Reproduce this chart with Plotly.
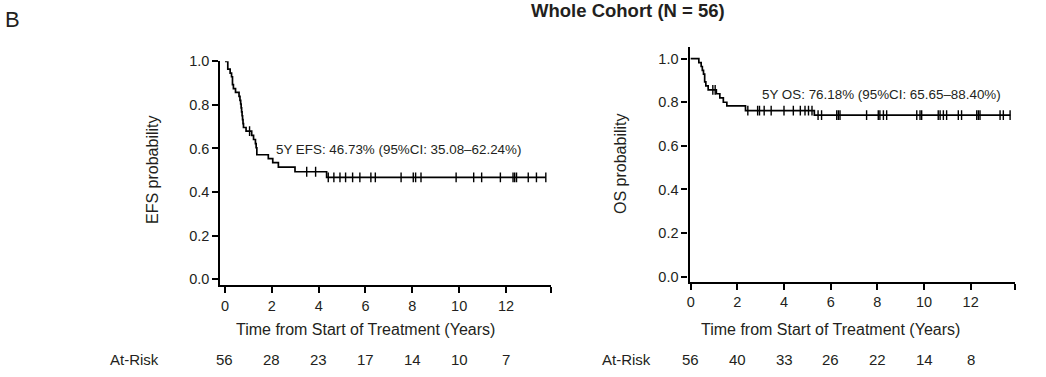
import numpy as np
import plotly.graph_objects as go

# ---------------- data ----------------
efs_t = [0, 0.12, 0.22, 0.28, 0.32, 0.36, 0.45, 0.60, 0.64, 0.67, 0.69, 0.71, 0.73, 0.75,
         0.77, 0.79, 0.90, 1.14, 1.22, 1.30, 1.33, 1.36, 1.85, 2.04, 2.28, 2.99, 4.34, 13.70]
efs_s = [1.0, 0.964, 0.946, 0.929, 0.893, 0.875, 0.857, 0.839, 0.821, 0.804, 0.786, 0.768, 0.750, 0.732,
         0.714, 0.696, 0.679, 0.660, 0.641, 0.622, 0.603, 0.571, 0.553, 0.535, 0.514, 0.493, 0.467, 0.467]
efs_censor = [1.05, 3.49, 3.87, 4.41, 4.65, 4.91, 5.15, 5.45, 5.76, 6.23, 6.42, 7.52, 8.04, 8.14,
              8.37, 9.87, 10.62, 10.96, 11.76, 12.30, 12.37, 12.45, 12.95, 13.30, 13.70]

os_t = [0, 0.35, 0.45, 0.50, 0.55, 0.60, 0.65, 0.75, 1.10, 1.25, 1.40, 1.55, 2.35, 5.30, 13.70]
os_s = [1.0, 0.982, 0.964, 0.946, 0.929, 0.893, 0.875, 0.857, 0.839, 0.820, 0.800, 0.783, 0.762, 0.741, 0.741]
os_censor = [0.95, 1.05, 2.45, 2.87, 2.95, 3.15, 3.45, 4.00, 4.40, 4.70, 4.90, 5.05, 5.20, 5.46, 5.61,
             6.26, 6.33, 6.40, 7.54, 8.04, 8.11, 8.26, 8.40, 9.69, 9.83, 9.90, 10.61, 10.69, 10.83,
             10.97, 11.47, 11.61, 12.26, 12.33, 12.40, 13.26, 13.40, 13.69]

risk_times = [0, 2, 4, 6, 8, 10, 12]
efs_risk = [56, 28, 23, 17, 14, 10, 7]
os_risk = [56, 40, 33, 26, 22, 14, 8]

x_ticks = [0, 2, 4, 6, 8, 10, 12]
y_ticks = [0.0, 0.2, 0.4, 0.6, 0.8, 1.0]

efs_label = "5Y EFS: 46.73% (95%CI: 35.08\u201362.24%)"
os_label = "5Y OS: 76.18% (95%CI: 65.65\u201388.40%)"
title = "<b>Whole Cohort (N = 56)</b>"

# ---------------- helpers ----------------
W, H = 1046, 377
FONT = "Liberation Sans, Arial, Helvetica, sans-serif"
TXT = "#231f20"


def px(p):
    return p / W


def py(p):
    return 1 - p / H


def step_value(times, surv, t):
    i = np.searchsorted(np.asarray(times), t, side="right") - 1
    return np.asarray(surv)[i]


fig = go.Figure()

panels = [
    dict(t=efs_t, s=efs_s, c=efs_censor, xa="x", ya="y"),
    dict(t=os_t, s=os_s, c=os_censor, xa="x2", ya="y2"),
]
for p in panels:
    fig.add_trace(go.Scatter(x=p["t"], y=p["s"], mode="lines", line=dict(shape="hv", color="black", width=1.7),
                             xaxis=p["xa"], yaxis=p["ya"], showlegend=False, hoverinfo="skip"))
    cy = [step_value(p["t"], p["s"], t) for t in p["c"]]
    fig.add_trace(go.Scatter(x=p["c"], y=cy, mode="markers",
                             marker=dict(symbol="line-ns", size=7, line=dict(width=1.4, color="black")),
                             xaxis=p["xa"], yaxis=p["ya"], showlegend=False, hoverinfo="skip"))

axis_common = dict(showline=True, linewidth=2.2, linecolor="black", ticks="outside", ticklen=6,
                   tickwidth=2, tickcolor="black", showgrid=False, zeroline=False, automargin=False,
                   tickfont=dict(family=FONT, size=14.5, color=TXT))

xt_vals = x_ticks + [13.9]
xt_text = [str(v) for v in x_ticks] + [""]

fig.update_layout(
    width=W, height=H, margin=dict(l=0, r=0, t=0, b=0, autoexpand=False),
    paper_bgcolor="white", plot_bgcolor="white",
    xaxis=dict(domain=[px(220.3), px(550.5)], range=[-0.2, 13.9], tickvals=xt_vals, ticktext=xt_text,
               anchor="y", **axis_common),
    yaxis=dict(domain=[py(285), py(61.3)], range=[-0.027, 1.0], tickvals=y_ticks, tickformat=".1f",
               anchor="x", **axis_common),
    xaxis2=dict(domain=[px(689.5), px(1015)], range=[-0.05, 13.9], tickvals=xt_vals, ticktext=xt_text,
                anchor="y2", **axis_common),
    yaxis2=dict(domain=[py(281.7), py(47.3)], range=[-0.023, 1.052], tickvals=y_ticks, tickformat=".1f",
                anchor="x2", **axis_common),
)

ann = []


def add_text(text, x, y, size, xanchor="center", yanchor="middle", xref="paper", textangle=0):
    ann.append(dict(text=text, x=x, y=y, xref=xref, yref="paper", xanchor=xanchor, yanchor=yanchor,
                    showarrow=False, textangle=textangle, font=dict(family=FONT, size=size, color=TXT)))


add_text("B", px(3), py(20), 22, xanchor="left")
add_text(title, px(628), py(11), 18.5)
add_text(efs_label, px(274), py(149.5), 13.4, xanchor="left")
add_text(os_label, px(760), py(94.5), 13.4, xanchor="left")
add_text("EFS probability", px(153), py(170), 16, textangle=-90)
add_text("OS probability", px(621), py(163), 16, textangle=-90)
add_text("Time from Start of Treatment (Years)", 6, py(329), 16, xref="x")
add_text("Time from Start of Treatment (Years)", 6, py(329), 16, xref="x2")
add_text("At-Risk", px(161), py(359), 15, xanchor="right")
add_text("At-Risk", px(653), py(359), 15, xanchor="right")
for t, n in zip(risk_times, efs_risk):
    add_text(str(n), t, py(359), 15, xref="x")
for t, n in zip(risk_times, os_risk):
    add_text(str(n), t, py(359), 15, xref="x2")

fig.update_layout(annotations=ann)
fig.write_html("out.html", config={"displayModeBar": False},
               post_script="document.body.style.margin='0px';document.body.style.padding='0px';")
